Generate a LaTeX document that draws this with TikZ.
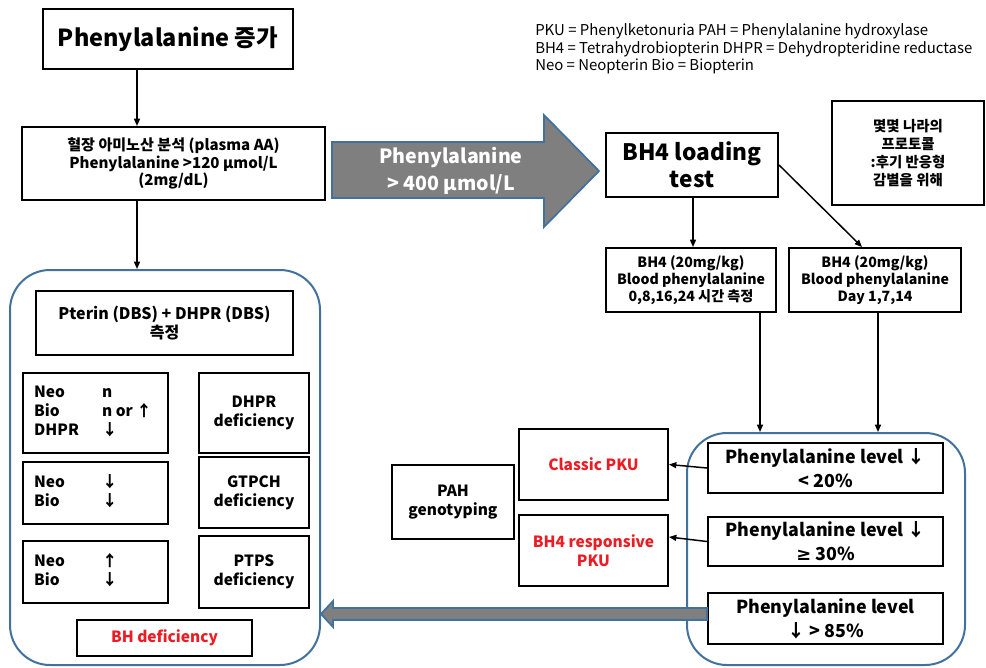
\documentclass[tikz,border=0pt]{standalone}
\usepackage{fontspec}
\setmainfont{Noto Sans CJK KR}
\newfontfamily\symfont{DejaVu Sans}
\usetikzlibrary{arrows.meta,calc}
\definecolor{cblue}{RGB}{65,113,156}
\definecolor{agray}{RGB}{127,127,127}
\definecolor{cred}{RGB}{235,28,36}
\newcommand\fsz[2]{\fontsize{#1}{#2}\selectfont}
\begin{document}
\begin{tikzpicture}[x=0.75pt,y=-0.75pt,
  corners/.style n args={4}{minimum width={(#3-#1)*0.75pt}, minimum height={(#4-#2)*0.75pt}, at={({(#1+#3)/2},{(#2+#4)/2})}},
  box/.style={draw=black, line width=1.5pt, inner sep=0pt, align=center, font=\bfseries\fsz{11.6pt}{14.25pt}},
  container/.style={draw=cblue, line width=1.5pt, rounded corners=30pt, inner sep=0pt},
  arr/.style={line width=1.1pt, -{Triangle[length=5.5pt,width=4.5pt]}},
  bigarrow/.style={fill=agray, draw=cblue, line width=1.3pt, line join=miter},
  redtxt/.style={text=cred}]
\useasboundingbox (0,0) rectangle (986,668);

% containers
\node[container, corners={10}{270}{320}{665}] (leftc) {};
\node[container, corners={687}{433}{965}{665}] (rightc) {};

% top left
\node[box, font=\bfseries\fsz{17.6pt}{22pt}, corners={43}{9}{293}{69}] (b1) {Phenylalanine 증가};
\node[box, font=\bfseries\fsz{11.3pt}{12.9pt}, corners={22}{127}{325}{200}] (b2) {혈장 아미노산 분석 (plasma AA)\\Phenylalanine >120 µmol/L\\(2mg/dL)};
\draw[arr] (137,0 |- b1.south) -- (137,0 |- b2.north);
\draw[arr] (137,0 |- b2.south) -- (137,0 |- leftc.north);

% left container contents
\node[box, font=\bfseries\fsz{12pt}{14.25pt}, corners={36}{291}{293}{355}] (pterin) {Pterin (DBS) + DHPR (DBS)\\측정};
\node[box, corners={23}{373}{168}{453}] (neo1) {\begin{tabular}{@{}p{51pt}@{}p{41pt}@{}}Neo & n\\ Bio & n or ↑\\ DHPR & ↓\end{tabular}};
\node[box, corners={23}{462}{168}{524}] (neo2) {\begin{tabular}{@{}p{51pt}@{}p{41pt}@{}}Neo & ↓\\ Bio & ↓\end{tabular}};
\node[box, corners={23}{541}{168}{603}] (neo3) {\begin{tabular}{@{}p{51pt}@{}p{41pt}@{}}Neo & ↑\\ Bio & ↓\end{tabular}};
\node[box, corners={199}{373}{309}{453}] (dhpr) {DHPR\\deficiency};
\node[box, corners={199}{457}{309}{528}] (gtpch) {GTPCH\\deficiency};
\node[box, corners={199}{536}{309}{608}] (ptps) {PTPS\\deficiency};
\node[box, redtxt, corners={77}{620}{252}{656}] (bhdef) {BH deficiency};

% big gray arrow
\draw[bigarrow] (332,142) -- (544,142) -- (544,115) -- (599,171) -- (544,227) -- (544,198) -- (332,198) -- cycle;
\node[text=white, align=center, font=\bfseries\fsz{14.7pt}{20pt}] (bigtxt) at (451,171) {Phenylalanine\\> 400 µmol/L};

% legend
\node[anchor=west, align=left, inner sep=0pt, font=\fsz{11.2pt}{13.1pt}] (legend) at (535,49) {PKU = Phenylketonuria PAH = Phenylalanine hydroxylase\\BH4 = Tetrahydrobiopterin DHPR = Dehydropteridine reductase\\Neo = Neopterin Bio = Biopterin};

% right side
\node[box, corners={606}{133}{778}{197}, font=\bfseries\fsz{17pt}{20pt}] (load) {BH4 loading\\test};
\node[box, corners={832}{101}{984}{205}, font=\bfseries\fsz{10.8pt}{13.5pt}] (note) {몇몇 나라의\\프로토콜\\:후기 반응형\\감별을 위해};
\node[box, font=\bfseries\fsz{10.6pt}{12.9pt}, corners={606}{248}{776}{312}] (bh4a) {BH4 (20mg/kg)\\Blood phenylalanine\\0,8,16,24 시간 측정};
\node[box, font=\bfseries\fsz{10.6pt}{12.9pt}, corners={789}{248}{961}{312}] (bh4b) {BH4 (20mg/kg)\\Blood phenylalanine\\Day 1,7,14};
\draw[arr] (693,0 |- load.south) -- (693,0 |- bh4a.north);
\draw[arr] (load.east) -- (862,0 |- bh4b.north);
\draw[arr] (760,0 |- bh4a.south) -- (760,0 |- rightc.north);
\draw[arr] (878,0 |- bh4b.south) -- (878,0 |- rightc.north);

\node[box, corners={708}{443}{943}{493}, font=\bfseries\fsz{13.4pt}{18pt}] (pl1) {Phenylalanine level ↓\\< 20\%};
\node[box, corners={708}{517}{943}{566}, font=\bfseries\fsz{13.4pt}{18pt}] (pl2) {Phenylalanine level ↓\\{\symfont ≥} 30\%};
\node[box, corners={708}{593}{943}{644}, font=\bfseries\fsz{13.4pt}{18pt}] (pl3) {Phenylalanine level\\↓ > 85\%};

\node[box, redtxt, corners={519}{429}{668}{500}] (classic) {Classic PKU};
\node[box, redtxt, corners={519}{515}{668}{586}] (resp) {BH4 responsive\\PKU};
\node[box, corners={392}{465}{514}{539}] (pah) {PAH\\genotyping};

\draw[arr] (pl1.west) -- (classic.east);
\draw[arr] (pl2.west) -- (resp.east |- 0,537);

% bottom gray arrow
\draw[bigarrow] (pl3.west |- 0,608) -- (333,608) -- (333,601) -- (leftc.east |- 0,614) -- (333,627) -- (333,620) -- (pl3.west |- 0,620) -- cycle;
\end{tikzpicture}
\end{document}
